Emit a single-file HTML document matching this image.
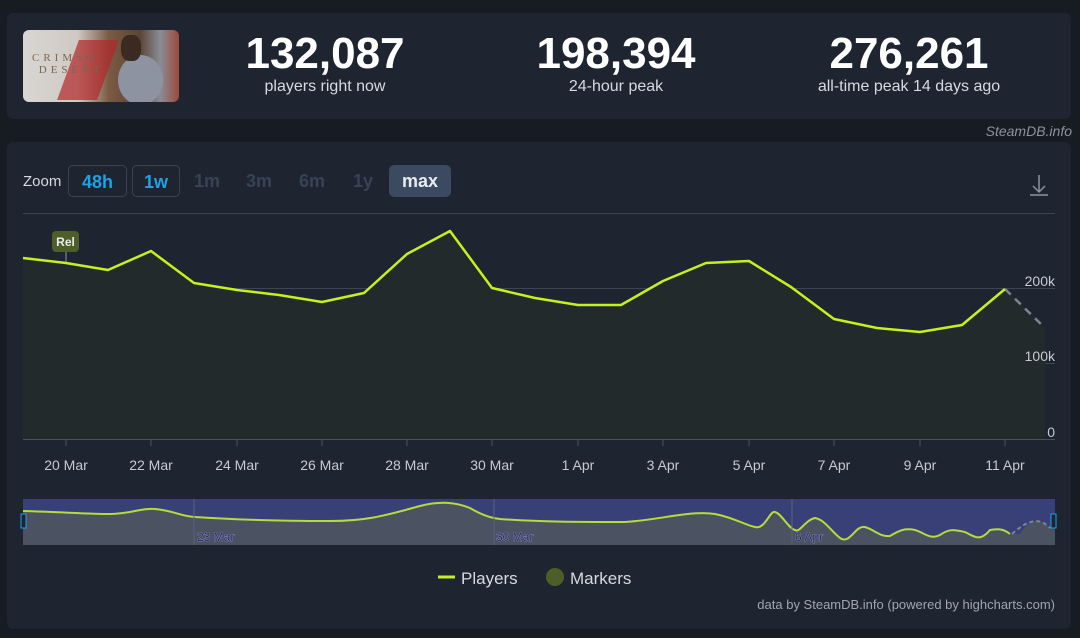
<!DOCTYPE html>
<html><head><meta charset="utf-8"><style>
body{margin:0;width:1080px;height:638px;background:#171b22;font-family:"Liberation Sans",sans-serif;overflow:hidden;position:relative}
.panel{position:absolute;background:#1e2430;border-radius:6px}
.stat{position:absolute;top:30px;text-align:center;color:#fff}
.stat b{display:block;font-size:44px;font-weight:700;letter-spacing:0px;line-height:48px}
.stat span{display:block;font-size:16px;color:#d6dae0;line-height:18px}
.btn{position:absolute;top:165px;height:32px;line-height:32px;font-size:18px;font-weight:700;text-align:center;border-radius:5px;box-sizing:border-box}
.t{position:absolute;font-size:14px;color:#c5cad3}
</style></head><body>
<div class="panel" style="left:7px;top:13px;width:1064px;height:106px"></div>
<div style="position:absolute;left:23px;top:30px;width:156px;height:72px;border-radius:6px;overflow:hidden;background:linear-gradient(90deg,#d8d6d3 0%,#cfc9c3 35%,#7b5a44 55%,#5a4535 75%,#8a8c96 88%,#9b4a3a 100%)">
<div style="position:absolute;left:45px;top:10px;width:40px;height:60px;background:#b4262a;opacity:.7;transform:skewX(-20deg)"></div>
<div style="position:absolute;left:95px;top:25px;width:45px;height:50px;border-radius:50%;background:#8d93a0"></div>
<div style="position:absolute;left:98px;top:5px;width:20px;height:26px;border-radius:40%;background:#3a2a22"></div>
<div style="position:absolute;left:9px;top:22px;font-size:11px;letter-spacing:4px;color:#7a6655;font-family:'Liberation Serif',serif">CRIMSO<br>&nbsp;DESERT</div>
</div>
<div class="stat" style="left:225px;width:200px"><b>132,087</b><span>players right now</span></div>
<div class="stat" style="left:516px;width:200px"><b>198,394</b><span>24-hour peak</span></div>
<div class="stat" style="left:790px;width:238px"><b>276,261</b><span>all-time peak 14 days ago</span></div>
<div style="position:absolute;right:8px;top:123px;font-size:14px;font-style:italic;color:#8c939e">SteamDB.info</div>

<div class="panel" style="left:7px;top:142px;width:1064px;height:487px"></div>
<div class="t" style="left:23px;top:173px;font-size:15px;color:#d6dae0">Zoom</div>
<div class="btn" style="left:68px;width:59px;border:1px solid #3b4454;color:#1ea2e6">48h</div>
<div class="btn" style="left:132px;width:48px;border:1px solid #3b4454;color:#1ea2e6">1w</div>
<div class="btn" style="left:188px;width:38px;color:#394356">1m</div>
<div class="btn" style="left:240px;width:38px;color:#394356">3m</div>
<div class="btn" style="left:292px;width:40px;color:#394356">6m</div>
<div class="btn" style="left:346px;width:34px;color:#394356">1y</div>
<div class="btn" style="left:389px;width:62px;background:#3b4a60;color:#e8ebef">max</div>

<svg width="1080" height="638" style="position:absolute;left:0;top:0">
<g stroke="#8c939e" stroke-width="1.5" fill="none"><path d="M1039 175v16M1033 186l6 6 6-6M1030 195h18"/></g>
<g stroke="#3d4453" stroke-width="1"><path d="M23 213.5H1055M23 288.5H1055M23 363.5H1055"/></g>
<path d="M23 439.5H1055" stroke="#4a5262"/>
<g stroke="#4a5262"><path d="M66 440v6M151 440v6M237 440v6M322 440v6M407 440v6M492 440v6M578 440v6M663 440v6M749 440v6M834 440v6M920 440v6M1005 440v6"/></g>
<path d="M23 258L66 263L108 270L151 251L194 283L237 290L279 295L322 302L364 293L407 254L450 231L492 288L535 298L578 305L621 305L663 281L706 263L749 261L791 287L834 319L877 328L920 332L962 325L1005 289L1045 328L1045 439L23 439Z" fill="#232a2c"/>
<path d="M1005 289L1045 328" stroke="#7d8590" stroke-width="2.5" stroke-dasharray="8,6" fill="none"/>
<path d="M23 258L66 263L108 270L151 251L194 283L237 290L279 295L322 302L364 293L407 254L450 231L492 288L535 298L578 305L621 305L663 281L706 263L749 261L791 287L834 319L877 328L920 332L962 325L1005 289" stroke="#c4f21c" stroke-width="2.5" fill="none" stroke-linejoin="round"/>
<path d="M66 252V262" stroke="#8c939e"/>
<rect x="52" y="231" width="27" height="21" rx="4" fill="#4d5e28"/>
<text x="65.5" y="246" font-size="12" font-weight="700" fill="#e8ebef" text-anchor="middle">Rel</text>
<g font-size="14" fill="#c5cad3" text-anchor="end"><text x="1055" y="286">200k</text><text x="1055" y="361">100k</text><text x="1055" y="437">0</text></g>
<g font-size="14" fill="#c5cad3" text-anchor="middle"><text x="66" y="470">20 Mar</text><text x="151" y="470">22 Mar</text><text x="237" y="470">24 Mar</text><text x="322" y="470">26 Mar</text><text x="407" y="470">28 Mar</text><text x="492" y="470">30 Mar</text><text x="578" y="470">1 Apr</text><text x="663" y="470">3 Apr</text><text x="749" y="470">5 Apr</text><text x="834" y="470">7 Apr</text><text x="920" y="470">9 Apr</text><text x="1005" y="470">11 Apr</text></g>
<rect x="23" y="499" width="1032" height="46" fill="#394077"/>
<path d="M23 511C60 512 90 514 110 514C130 514 140 508 155 509C175 511 180 516 195 517C240 520 290 521 330 521C370 521 390 514 420 506C440 501 455 502 470 508C480 514 490 518 500 519C540 522 580 522 625 522C660 520 690 510 715 514C735 518 745 525 755 527C765 530 770 510 775 512C782 514 788 528 795 530C800 533 805 520 815 518C825 520 830 530 840 538C850 545 855 525 865 527C875 530 880 537 890 536C900 530 905 528 915 530C925 533 930 540 940 535C950 528 955 530 965 532C975 537 980 542 990 530C1000 528 1005 530 1010 534L1020 534C1030 518 1040 518 1050 528L1055 530V545H23Z" fill="#4b5363"/>
<path d="M23 511C60 512 90 514 110 514C130 514 140 508 155 509C175 511 180 516 195 517C240 520 290 521 330 521C370 521 390 514 420 506C440 501 455 502 470 508C480 514 490 518 500 519C540 522 580 522 625 522C660 520 690 510 715 514C735 518 745 525 755 527C765 530 770 510 775 512C782 514 788 528 795 530C800 533 805 520 815 518C825 520 830 530 840 538C850 545 855 525 865 527C875 530 880 537 890 536C900 530 905 528 915 530C925 533 930 540 940 535C950 528 955 530 965 532C975 537 980 542 990 530C1000 528 1005 530 1010 534" stroke="#b4dc3a" stroke-width="2" fill="none"/>
<path d="M1012 534C1030 518 1040 518 1050 528" stroke="#7d8590" stroke-width="2" fill="none" stroke-dasharray="4,3"/>
<g stroke="#5a6080"><path d="M194 499V545M494 499V545M792 499V545"/></g>
<g font-size="12" fill="#232860" stroke="#aab0e0" stroke-width="0.6" paint-order="stroke"><text x="197" y="541">23 Mar</text><text x="496" y="541">30 Mar</text><text x="795" y="541">6 Apr</text></g>
<rect x="21" y="514" width="5" height="14" fill="#1e2430" stroke="#1ea2e6"/>
<rect x="1051" y="514" width="5" height="14" fill="#1e2430" stroke="#1ea2e6"/>
<path d="M438 577H455" stroke="#c4f21c" stroke-width="3"/>
<text x="461" y="584" font-size="17" fill="#d6dae0">Players</text>
<circle cx="555" cy="577" r="9" fill="#4d5e28"/>
<text x="570" y="584" font-size="17" fill="#d6dae0">Markers</text>
<text x="1055" y="609" font-size="13" fill="#a0a6b0" text-anchor="end">data by SteamDB.info (powered by highcharts.com)</text>
</svg>
</body></html>
